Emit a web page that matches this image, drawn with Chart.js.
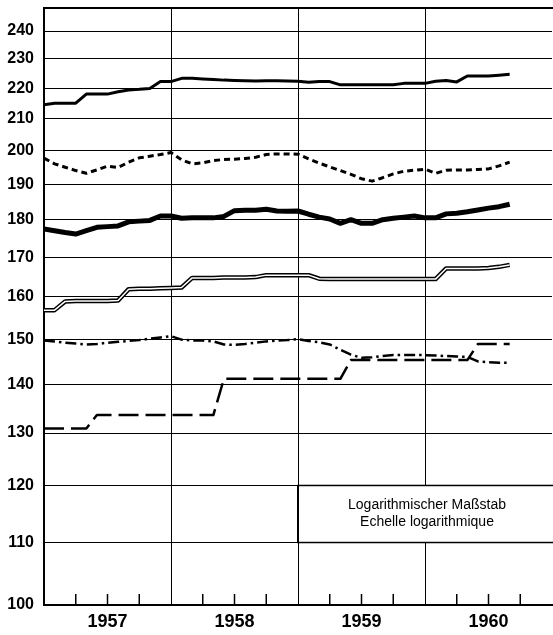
<!DOCTYPE html>
<html>
<head>
<meta charset="utf-8">
<script src="https://cdn.jsdelivr.net/npm/chart.js@4"></script>
<style>
  html, body { margin: 0; padding: 0; background: #fff; }
  #wrap { width: 553px; height: 635px; }
</style>
</head>
<body>
<div id="wrap"><canvas id="c" width="553" height="635"></canvas></div>
<script>
// ---- data (monthly, Jan 1957 ... Sep 1960) ----
const startYear = 1957;
const yearLabels = ['1957', '1958', '1959', '1960'];
const yTickValues = [100, 110, 120, 130, 140, 150, 160, 170, 180, 190, 200, 210, 220, 230, 240];
const boxLines = ['Logarithmischer Maßstab', 'Echelle logarithmique'];

const seriesTop = [214.5, 215, 215, 215, 218, 218, 218, 218.8, 219.4, 219.6, 219.9, 222.2,
  222.2, 223.3, 223.3, 223.1, 222.9, 222.7, 222.6, 222.5, 222.4, 222.5, 222.5, 222.4,
  222.3, 222.0, 222.2, 222.2, 221.1, 221.1, 221.1, 221.1, 221.1, 221.1, 221.6, 221.6,
  221.6, 222.3, 222.6, 222.1, 224.1, 224.1, 224.1, 224.4, 224.7];

const seriesDotted = [197.7, 196, 195, 194, 193.2, 194.2, 195.3, 194.9, 196.5, 197.8, 198.3, 198.8,
  199.4, 197.2, 196.0, 196.3, 197, 197.3, 197.4, 197.6, 198.0, 198.8, 199.0, 199.0,
  198.9, 197.5, 196.2, 195.1, 194, 192.9, 191.6, 190.9, 191.9, 193.0, 193.8, 194.1,
  194.4, 193.2, 194.1, 194.2, 194.2, 194.3, 194.5, 195.4, 196.5];

const seriesHeavy = [177.5, 177.0, 176.5, 176.1, 177.0, 177.9, 178.1, 178.3, 179.4, 179.6, 179.8, 181.0,
  181.0, 180.4, 180.5, 180.5, 180.5, 180.9, 182.5, 182.6, 182.6, 182.9, 182.4, 182.3,
  182.4, 181.5, 180.7, 180.2, 179.0, 180.0, 179.0, 179.0, 180.0, 180.4, 180.7, 181.0,
  180.5, 180.5, 181.6, 181.8, 182.2, 182.7, 183.2, 183.6, 184.3];

const seriesDouble = [156.8, 156.8, 158.9, 159.0, 159.0, 159.0, 159.0, 159.1, 161.9, 162.0, 162.0, 162.1,
  162.2, 162.3, 164.7, 164.7, 164.7, 164.8, 164.8, 164.8, 164.9, 165.4, 165.4, 165.4,
  165.4, 165.4, 164.5, 164.4, 164.4, 164.4, 164.4, 164.4, 164.4, 164.4, 164.4, 164.4,
  164.4, 164.4, 167.1, 167.1, 167.1, 167.1, 167.2, 167.5, 168.0];

const seriesDashDot = [149.7, 149.5, 149.2, 149.0, 148.8, 148.9, 149.2, 149.4, 149.6, 149.8, 150.1, 150.4,
  150.7, 149.9, 149.7, 149.7, 149.5, 148.8, 148.7, 148.9, 149.2, 149.5, 149.7, 149.8,
  150.0, 149.6, 149.3, 148.8, 147.6, 146.5, 145.8, 145.9, 146.2, 146.4, 146.4, 146.4,
  146.4, 146.3, 146.2, 146.1, 146.0, 145.0, 144.8, 144.7, 144.7];

const seriesLongDash = [130.9, 130.9, 130.9, 130.9, 130.9, 133.6, 133.6, 133.6, 133.6, 133.6, 133.6, 133.6,
  133.6, 133.6, 133.6, 133.6, 133.6, 141.2, 141.2, 141.2, 141.2, 141.2, 141.2, 141.2,
  141.2, 141.2, 141.2, 141.2, 141.2, 145.3, 145.3, 145.3, 145.3, 145.3, 145.3, 145.3,
  145.3, 145.3, 145.3, 145.3, 145.3, 148.9, 148.9, 148.9, 148.9];

const FONT = '"Liberation Sans", Arial, Helvetica, sans-serif';

function toPoints(arr) {
  return arr.map((v, i) => ({ x: startYear + i / 12, y: v }));
}

function lineSet(arr, width, dash, color, order) {
  return {
    data: toPoints(arr),
    borderColor: color || '#000',
    borderWidth: width,
    borderDash: dash || [],
    pointRadius: 0,
    tension: 0,
    fill: false,
    borderJoinStyle: 'round',
    borderCapStyle: 'butt',
    order: order == null ? 1 : order
  };
}

const framePlugin = {
  id: 'frame',
  afterDatasetsDraw(chart) {
    const { ctx, chartArea, scales } = chart;
    const x = scales.x, y = scales.y;
    ctx.save();
    // top frame line
    ctx.strokeStyle = '#000';
    ctx.lineWidth = 2;
    ctx.beginPath();
    ctx.moveTo(chartArea.left - 1, chartArea.top);
    ctx.lineTo(chart.width, chartArea.top);
    ctx.stroke();
    // quarter ticks pointing inward from bottom axis
    ctx.lineWidth = 1.5;
    for (let yr = startYear; yr < startYear + 4; yr++) {
      for (let q = 1; q <= 3; q++) {
        const px = x.getPixelForValue(yr + q / 4);
        ctx.beginPath();
        ctx.moveTo(px, chartArea.bottom);
        ctx.lineTo(px, chartArea.bottom - 11);
        ctx.stroke();
      }
    }
    // note box
    const bl = x.getPixelForValue(1959);
    const bt = y.getPixelForValue(120);
    const bb = y.getPixelForValue(110);
    ctx.fillStyle = '#fff';
    ctx.fillRect(bl, bt, chart.width - bl + 5, bb - bt);
    ctx.lineWidth = 1.5;
    ctx.strokeRect(bl, bt, chart.width - bl + 5, bb - bt);
    ctx.lineWidth = 2;
    ctx.beginPath();
    ctx.moveTo(bl, bt);
    ctx.lineTo(bl, bb);
    ctx.stroke();
    ctx.fillStyle = '#000';
    ctx.font = '14px ' + FONT;
    ctx.textAlign = 'center';
    ctx.textBaseline = 'middle';
    const cx = (bl + chart.width + 3) / 2;
    ctx.fillText(boxLines[0], cx, bt + 20);
    ctx.fillText(boxLines[1], cx, bt + 37);
    ctx.restore();
  }
};

new Chart(document.getElementById('c'), {
  type: 'line',
  data: {
    datasets: [
      lineSet(seriesTop, 3, [], '#000', 1),
      lineSet(seriesDotted, 3, [6, 4], '#000', 1),
      lineSet(seriesHeavy, 5, [], '#000', 1),
      lineSet(seriesDouble, 4.5, [], '#000', 2),
      lineSet(seriesDouble, 1.5, [], '#fff', 0),
      lineSet(seriesDashDot, 2.5, [11, 4, 2.5, 4], '#000', 1),
      lineSet(seriesLongDash, 2.5, [20, 7], '#000', 1)
    ]
  },
  options: {
    responsive: false,
    animation: false,
    devicePixelRatio: 1,
    layout: { padding: { top: 8, right: 1, left: 0, bottom: 0 } },
    plugins: { legend: { display: false }, tooltip: { enabled: false }, title: { display: false } },
    scales: {
      x: {
        type: 'linear',
        min: 1957,
        max: 1961,
        afterBuildTicks(scale) {
          const t = [];
          for (let i = 0; i <= 16; i++) t.push({ value: startYear + i / 4 });
          scale.ticks = t;
        },
        afterFit(scale) {
          scale.height = 30;
          scale.paddingLeft = 0;
          scale.paddingRight = 0;
        },
        grid: {
          drawTicks: false,
          lineWidth: 1,
          color(ctx) {
            const v = ctx.tick && ctx.tick.value;
            if (v != null && Math.abs(v - Math.round(v)) < 1e-6 && v > 1957.5 && v < 1960.5) return '#000';
            return 'rgba(0,0,0,0)';
          }
        },
        border: { display: true, color: '#000', width: 2 },
        ticks: {
          autoSkip: false,
          maxRotation: 0,
          padding: 6,
          color: '#000',
          font: { family: FONT, size: 18, weight: 'bold' },
          callback(value) {
            const frac = value - Math.floor(value);
            if (Math.abs(frac - 0.5) < 1e-6) return yearLabels[Math.floor(value) - startYear];
            return '';
          }
        }
      },
      y: {
        type: 'logarithmic',
        min: 100,
        max: 248.6,
        afterBuildTicks(scale) {
          scale.ticks = yTickValues.map(v => ({ value: v }));
        },
        afterFit(scale) {
          scale.width = 44;
          scale.paddingTop = 0;
          scale.paddingBottom = 0;
        },
        grid: {
          drawTicks: false,
          lineWidth: 1,
          color(ctx) {
            const v = ctx.tick && ctx.tick.value;
            return v === 100 ? 'rgba(0,0,0,0)' : '#000';
          }
        },
        border: { display: true, color: '#000', width: 2 },
        ticks: {
          autoSkip: false,
          padding: 10,
          color: '#000',
          font: { family: FONT, size: 16, weight: 'bold' },
          callback(value) { return String(value); }
        }
      }
    }
  },
  plugins: [framePlugin]
});
</script>
</body>
</html>
